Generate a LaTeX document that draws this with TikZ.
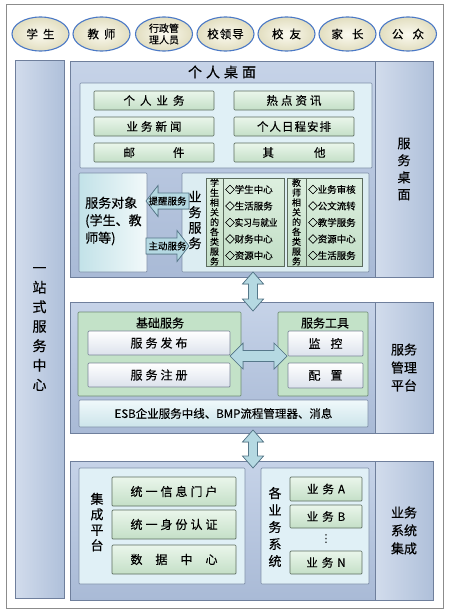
\documentclass[tikz,border=0pt]{standalone}
\usepackage{fontspec}
\setmainfont{Noto Sans CJK SC}[FakeBold=0.35]
\newfontfamily\symfont{DejaVu Sans}
\usetikzlibrary{shapes.geometric}
\definecolor{frm}{HTML}{8C8C8C}
\definecolor{pnlb}{HTML}{6F7F9C}
\definecolor{pnlt}{HTML}{C6D3E8}
\definecolor{pnld}{HTML}{A9BAD6}
\definecolor{lblL}{HTML}{D2DCEC}
\definecolor{lblM}{HTML}{F4F7FB}
\definecolor{lblR}{HTML}{AFC0DA}
\definecolor{innb}{HTML}{7E8EA8}
\definecolor{inn}{HTML}{E0F0F6}
\definecolor{gbb}{HTML}{5C6C5E}
\definecolor{gbt}{HTML}{EAF6EB}
\definecolor{gbd}{HTML}{C4DFC7}
\definecolor{gbigb}{HTML}{6E8C74}
\definecolor{gbig}{HTML}{C3E2C8}
\definecolor{wbb}{HTML}{7A8598}
\definecolor{wbd}{HTML}{DCE2EC}
\definecolor{esbt}{HTML}{F0F9FB}
\definecolor{esbd}{HTML}{CCE4EA}
\definecolor{ellb}{HTML}{4B79C6}
\definecolor{elli}{HTML}{FBFAF0}
\definecolor{ello}{HTML}{E2DEC0}
\definecolor{arb}{HTML}{56788A}
\definecolor{arE}{HTML}{B5D9E2}
\definecolor{arM}{HTML}{F2FAFC}
\definecolor{objL}{HTML}{C2E2E8}
\definecolor{objR}{HTML}{F2F9FA}
\definecolor{ysf}{HTML}{DCEDF2}
\definecolor{vbt}{HTML}{DDEFDF}
\definecolor{vbd}{HTML}{C2DEC6}
\newcommand\bx[7]{\node[#6,minimum width={#4-#2},minimum height={#5-#3}] (#1) at ({(#2+#4)/2},{(#3+#5)/2}) {#7};}
\newcommand\gp[1]{\hspace{#1pt}}
\begin{document}
\begin{tikzpicture}[x=1pt,y=-1pt,
  box/.style={rectangle,inner sep=0pt,outer sep=0pt,draw,align=center},
  panel/.style={box,draw=pnlb,line width=0.8pt,top color=pnlt,bottom color=pnld},
  lbl/.style={box,draw=pnlb,line width=0.8pt,left color=lblL,middle color=lblM,right color=lblR,
    font=\fontsize{13}{18}\selectfont},
  lcol/.style={box,draw=pnlb,line width=0.8pt,left color=lblL,middle color=lblM,right color=lblR,
    font=\fontsize{14}{19.5}\selectfont},
  inner/.style={box,draw=innb,line width=0.7pt,fill=inn,rounded corners=1pt},
  gbtn/.style={box,draw=gbb,line width=0.7pt,top color=gbt,bottom color=gbd,rounded corners=1pt,
    font=\fontsize{11.5}{13}\selectfont},
  gbigbox/.style={box,draw=gbigb,line width=0.7pt,fill=gbig,rounded corners=1pt},
  wbtn/.style={box,draw=wbb,line width=0.7pt,top color=white,bottom color=wbd,rounded corners=1pt,
    font=\fontsize{12}{13}\selectfont},
  esbbox/.style={box,draw=innb,line width=0.7pt,top color=esbt,bottom color=esbd,rounded corners=1pt,
    font=\fontsize{11.5}{13}\selectfont},
  ell/.style={ellipse,inner sep=0pt,draw=ellb,line width=1.1pt,inner color=elli,outer color=ello,
    minimum width=57pt,minimum height=34pt,align=center,font=\fontsize{11.5}{12}\selectfont},
  objbox/.style={box,draw=innb,line width=0.7pt,left color=objL,right color=objR,rounded corners=1pt},
  ysbox/.style={box,draw=innb,line width=0.7pt,fill=ysf,rounded corners=1pt},
  vbox/.style={box,draw=gbb,line width=0.7pt,top color=vbt,bottom color=vbd,
    font=\fontsize{9}{9.8}\selectfont},
  lbox/.style={box,draw=gbb,line width=0.7pt,top color=vbt,bottom color=vbd},
  item/.style={inner sep=0pt,anchor=west,font=\fontsize{9.5}{11}\selectfont},
  vtxt/.style={inner sep=0pt,align=center,font=\fontsize{13}{15.5}\selectfont},
  ttl/.style={inner sep=0pt,font=\fontsize{12}{13}\selectfont},
  varr/.style={draw=arb,line width=0.7pt,left color=arE,middle color=arM,right color=arE},
  harr/.style={draw=arb,line width=0.7pt,top color=arE,middle color=arM,bottom color=arE},
  alab/.style={inner sep=0pt,font=\fontsize{9.5}{10}\selectfont}
]
\useasboundingbox (0,0) rectangle (450,616);
\fill[white] (0,0) rectangle (450,616);
\bx{frame}{6}{4}{443}{608}{box,draw=frm,line width=1pt,fill=white}{}
% audience ellipses
\node[ell] (e1) at (40.5,34) {学\gp{5}生};
\node[ell] (e2) at (101.5,34) {教\gp{5}师};
\node[ell,font=\fontsize{10}{11.5}\selectfont] (e3) at (164,34) {行政管\\理人员};
\node[ell] (e4) at (225.5,34) {校\gp{1}领\gp{1}导};
\node[ell] (e5) at (286.5,34) {校\gp{6}友};
\node[ell] (e6) at (347.5,34) {家\gp{9}长};
\node[ell] (e7) at (408,34) {公\gp{9}众};
% left column
\bx{lc}{15}{60}{64}{598}{lcol}{一\\站\\式\\服\\务\\中\\心}
% panel 1
\bx{p1}{70}{61}{375}{277}{panel}{}
\bx{l1}{375}{61}{433}{277}{lbl,font=\fontsize{13}{17}\selectfont}{服\\务\\桌\\面}
\node[ttl,font=\fontsize{14}{15}\selectfont] (t1) at (222,72) {个\gp{4}人\gp{4}桌\gp{4}面};
\bx{in1}{80}{83}{372}{168}{inner}{}
\bx{b11}{94}{91}{214}{110}{gbtn}{个\gp{5}人\gp{5}业\gp{5}务}
\bx{b12}{234}{91}{354}{110}{gbtn}{热\gp{3}点\gp{3}资\gp{3}讯}
\bx{b21}{94}{117}{214}{136}{gbtn}{业\gp{3}务\gp{3}新\gp{3}闻}
\bx{b22}{234}{117}{354}{136}{gbtn}{个\gp{1}人\gp{1}日\gp{1}程\gp{1}安\gp{1}排}
\bx{b31}{94}{143}{214}{162}{gbtn}{邮\gp{38}件}
\bx{b32}{234}{143}{354}{162}{gbtn}{其\gp{40}他}
\bx{obj}{79}{173}{147}{272}{objbox}{}
\node[inner sep=0pt,anchor=west,align=left,font=\fontsize{13}{17.5}\selectfont] (objt) at (85,221) {服务对象\\(学生、教\\师等)};
\bx{ys}{182}{173}{369}{272}{ysbox}{}
\node[vtxt] (yst) at (195,220) {业\\务\\服\\务};
\bx{sv}{206}{178}{223}{266}{vbox}{学\\生\\相\\关\\的\\各\\类\\服\\务}
\bx{sl}{223}{178}{284}{266}{lbox}{}
\bx{tv}{287}{178}{306}{266}{vbox}{教\\师\\相\\关\\的\\各\\类\\服\\务}
\bx{tl}{306}{178}{362}{266}{lbox}{}
\node[item] (s1) at (225,189.5) {◇学生中心};
\node[item] (s2) at (225,206) {◇生活服务};
\node[item] (s3) at (225,222.5) {◇\scalebox{0.9}[1]{实习与就业}};
\node[item] (s4) at (225,239) {◇财务中心};
\node[item] (s5) at (225,255.5) {◇资源中心};
\node[item] (r1) at (308,189.5) {◇业务审核};
\node[item] (r2) at (308,206) {◇公文流转};
\node[item] (r3) at (308,222.5) {◇教学服务};
\node[item] (r4) at (308,239) {◇资源中心};
\node[item] (r5) at (308,255.5) {◇生活服务};
% service arrows
\filldraw[harr] (146,201) -- (158,185.5) -- (158,193) -- (189,193) -- (189,209) -- (158,209) -- (158,216.5) -- cycle;
\node[alab] (rmd) at (167.5,201) {提醒服务};
\filldraw[harr] (189,246) -- (177,230.5) -- (177,238) -- (146,238) -- (146,254) -- (177,254) -- (177,261.5) -- cycle;
\node[alab] (zd) at (167.5,246) {主动服务};
% panel 2
\bx{p2}{70}{302}{375}{433}{panel}{}
\bx{l2}{375}{302}{433}{433}{lbl}{服务\\管理\\平台}
\bx{jc}{78}{312}{241}{396}{gbigbox}{}
\node[ttl] (jct) at (160,323) {基础服务};
\bx{fb}{88}{331}{230}{355}{wbtn}{服\gp{3}务\gp{3}发\gp{3}布}
\bx{zc}{88}{363}{230}{387}{wbtn}{服\gp{3}务\gp{3}注\gp{3}册}
\bx{gj}{278}{312}{368}{396}{gbigbox}{}
\node[ttl] (gjt) at (325,323) {服务工具};
\bx{jk}{288}{331}{363}{356}{wbtn}{监\gp{10}控}
\bx{pz}{288}{363}{363}{388}{wbtn}{配\gp{10}置}
\bx{esb}{79}{400}{368}{427}{esbbox}{ESB企业服务中线、BMP流程管理器、消息}
\filldraw[harr] (230,356) -- (243,343) -- (243,350.5) -- (274,350.5) -- (274,343) -- (287,356) -- (274,369) -- (274,361.5) -- (243,361.5) -- (243,369) -- cycle;
% panel 3
\bx{p3}{70}{461}{375}{600}{panel}{}
\bx{l3}{375}{461}{433}{600}{lbl}{业务\\系统\\集成}
\bx{jp}{79}{468}{245}{584}{inner}{}
\node[vtxt] (jpt) at (97,522) {集\\成\\平\\台};
\bx{mh}{112}{477}{236}{506}{gbtn,font=\fontsize{12}{13}\selectfont}{统\gp{3}一\gp{3}信\gp{3}息\gp{3}门\gp{3}户}
\bx{sf}{112}{510}{236}{539}{gbtn,font=\fontsize{12}{13}\selectfont}{统\gp{3}一\gp{3}身\gp{3}份\gp{3}认\gp{3}证}
\bx{sj}{112}{545}{236}{574}{gbtn,font=\fontsize{12}{13}\selectfont}{数\gp{13}据\gp{13}中\gp{13}心}
\bx{gy}{261}{468}{369}{584}{inner}{}
\node[vtxt,font=\fontsize{13}{17}\selectfont] (gyt) at (275,527) {各\\业\\务\\系\\统};
\bx{ya}{290}{477}{362}{501}{gbtn}{业\gp{4}务\gp{4}A}
\bx{yb}{290}{505}{362}{528}{gbtn}{业\gp{4}务\gp{4}B}
\node[inner sep=0pt,font=\symfont\fontsize{11}{12}\selectfont] (dots) at (326,539) {⋮};
\bx{yn}{290}{551}{362}{574}{gbtn}{业\gp{4}务\gp{4}N}
% vertical double arrows between panels
\filldraw[varr] (253,272) -- (263.5,284) -- (257.5,284) -- (257.5,299) -- (263.5,299) -- (253,311) -- (242.5,299) -- (248.5,299) -- (248.5,284) -- (242.5,284) -- cycle;
\filldraw[varr] (253,430) -- (263.5,442) -- (257.5,442) -- (257.5,456) -- (263.5,456) -- (253,468) -- (242.5,456) -- (248.5,456) -- (248.5,442) -- (242.5,442) -- cycle;
\end{tikzpicture}
\end{document}
